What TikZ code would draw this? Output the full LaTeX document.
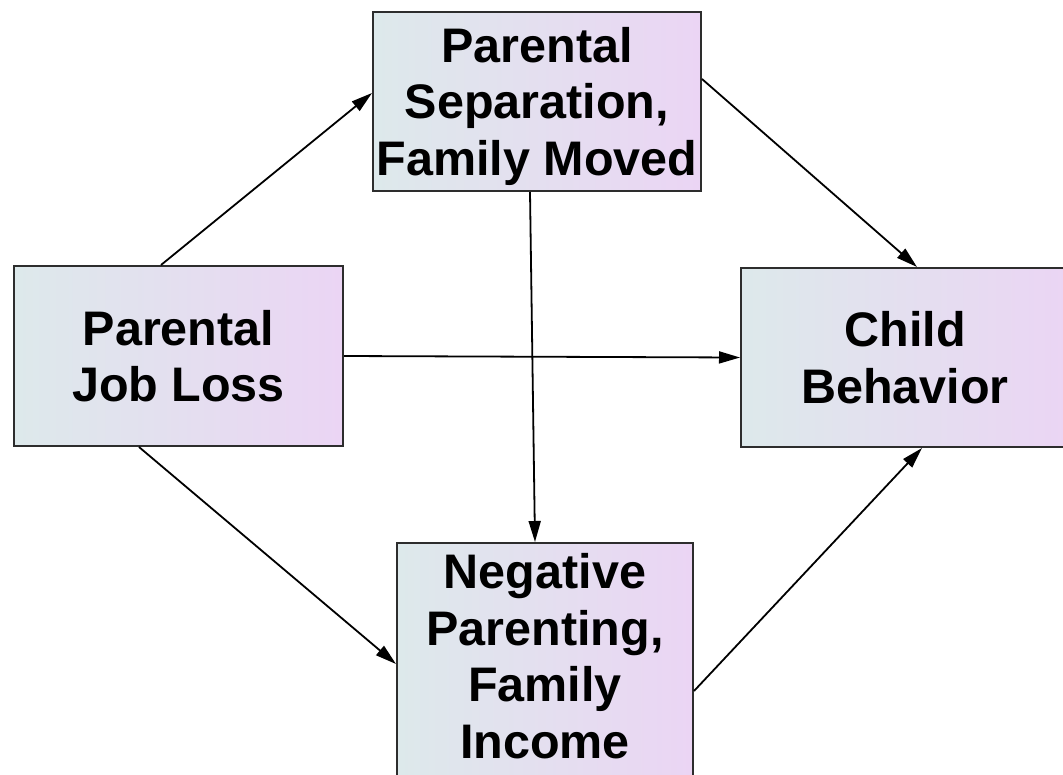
\documentclass[tikz,border=0pt]{standalone}
\usepackage{fontspec}
\setmainfont{Liberation Sans}
\usetikzlibrary{arrows.meta,calc}

\definecolor{boxleft}{RGB}{221,233,235}
\definecolor{boxright}{RGB}{235,213,244}
\definecolor{boxline}{RGB}{45,45,45}

\tikzset{
  factor/.style={
    rectangle, draw=boxline, line width=2pt,
    left color=boxleft, right color=boxright,
    minimum width=328pt, inner sep=0pt, align=center,
    font=\fontsize{48.5pt}{56.5pt}\selectfont\bfseries
  },
  link/.style={
    line width=1.8pt, draw=black,
    -{Triangle[length=21pt,width=12pt]}
  }
}

\begin{document}
\begin{tikzpicture}[x=1pt,y=-1pt]
  \path[use as bounding box] (0,0) rectangle (1063,774);
  \clip (0,0) rectangle (1063,774);
  \fill[white] (0,0) rectangle (1063,774);

  % the four factors
  \node[factor, minimum width=329pt, minimum height=180pt] (jobloss) at (178.5,356)
    {Parental\\Job Loss};
  \node[factor, minimum height=179pt] (separation) at (537,101.5)
    {Parental\\Separation,\\Famil\smash{y} Moved};
  \node[factor, minimum height=179pt] (behavior) at (905,357.5)
    {Child\\Behavior};
  \node[factor, minimum width=296pt, minimum height=260pt] (parenting) at (545,673)
    {Negative\\Parenting,\\Family\\Income\rule[-34pt]{0pt}{34pt}};

  % paths between the factors
  \draw[link] ([xshift=148pt]jobloss.north west) -- ([yshift=-82pt]separation.north west);
  \draw[link] ([yshift=-68pt]separation.north east) -- ([xshift=177pt]behavior.north west);
  \draw[link] ([xshift=158pt]separation.south west) -- ([xshift=139pt]parenting.north west);
  \draw[link] (jobloss.east) -- (behavior.west);
  \draw[link] ([xshift=126pt]jobloss.south west) -- ([yshift=-122pt]parenting.north west);
  \draw[link] ([yshift=-149pt]parenting.north east) -- ([xshift=182pt]behavior.south west);
\end{tikzpicture}
\end{document}
